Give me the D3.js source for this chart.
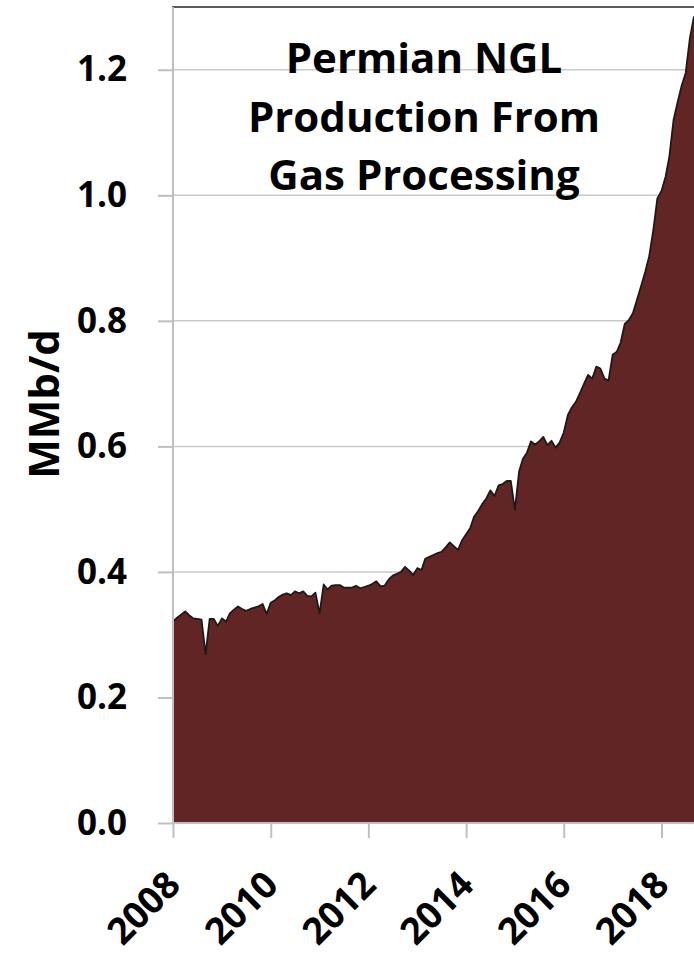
<!DOCTYPE html>
<html>
<head>
<meta charset="utf-8">
<script src="https://cdn.jsdelivr.net/npm/d3@7"></script>
<style>
  body { margin: 0; background: #fff; }
  text { font-family: "Open Sans", Lato, sans-serif; font-weight: bold; fill: #000; }
</style>
</head>
<body>
<div id="chart"></div>
<script>
var width = 694,
    height = 959;

// monthly Permian NGL production, MMb/d, Jan 2008 onwards
var startYear = 2008;
var values = [
  0.321, 0.327, 0.332, 0.337, 0.331, 0.326, 0.325, 0.324, 0.269, 0.325, 0.325, 0.314, // 2008
  0.326, 0.321, 0.334, 0.340, 0.345, 0.341, 0.338, 0.341, 0.343, 0.345, 0.349, 0.333, // 2009
  0.351, 0.355, 0.360, 0.364, 0.366, 0.363, 0.369, 0.366, 0.369, 0.362, 0.361, 0.367, // 2010
  0.334, 0.380, 0.372, 0.378, 0.379, 0.379, 0.375, 0.375, 0.375, 0.378, 0.374, 0.376, // 2011
  0.378, 0.381, 0.385, 0.377, 0.378, 0.388, 0.394, 0.397, 0.400, 0.408, 0.402, 0.395, // 2012
  0.406, 0.403, 0.421, 0.424, 0.427, 0.430, 0.432, 0.439, 0.447, 0.441, 0.435, 0.450, // 2013
  0.460, 0.470, 0.488, 0.497, 0.508, 0.517, 0.530, 0.521, 0.538, 0.540, 0.545, 0.545, // 2014
  0.499, 0.560, 0.580, 0.590, 0.608, 0.603, 0.608, 0.615, 0.602, 0.609, 0.598, 0.606, // 2015
  0.622, 0.650, 0.662, 0.671, 0.685, 0.700, 0.714, 0.708, 0.727, 0.724, 0.708, 0.705, // 2016
  0.746, 0.751, 0.765, 0.795, 0.801, 0.812, 0.833, 0.855, 0.878, 0.903, 0.945, 0.995, // 2017
  1.007, 1.030, 1.062, 1.120, 1.148, 1.175, 1.195, 1.250, 1.285                        // 2018
];
var yTicks = [0, 0.2, 0.4, 0.6, 0.8, 1.0, 1.2];
var xTickYears = [2008, 2010, 2012, 2014, 2016, 2018];
var titleLines = ["Permian NGL", "Production From", "Gas Processing"];
var yLabel = "MMb/d";

var data = values.map(function(v, i){
  return { date: new Date(startYear, i, 1), value: v };
});

var plotLeft = 173, plotBottom = 823, plotTop = 7;

var x = d3.scaleTime()
  .domain([new Date(2008, 0, 1), new Date(2018, 0, 1)])
  .range([plotLeft, 661.5]);

var y = d3.scaleLinear()
  .domain([0, 1.3])
  .range([plotBottom, plotTop]);

var svg = d3.select("#chart")
  .append("svg")
  .attr("width", width)
  .attr("height", height);

// gridlines
svg.append("g")
  .selectAll("line")
  .data(yTicks.filter(function(d){ return d > 0; }))
  .enter()
  .append("line")
  .attr("x1", plotLeft)
  .attr("x2", width)
  .attr("y1", function(d){ return y(d); })
  .attr("y2", function(d){ return y(d); })
  .attr("stroke", "#c9c9c9")
  .attr("stroke-width", 1.5);

// area
var area = d3.area()
  .x(function(d){ return x(d.date); })
  .y0(y(0))
  .y1(function(d){ return y(d.value); });

var line = d3.line()
  .x(function(d){ return x(d.date); })
  .y(function(d){ return y(d.value); });

svg.append("path")
  .datum(data)
  .attr("d", area)
  .attr("fill", "#622526");

svg.append("path")
  .datum(data)
  .attr("d", line)
  .attr("fill", "none")
  .attr("stroke", "#1c1a17")
  .attr("stroke-width", 1.8)
  .attr("stroke-linejoin", "round");

// top border
svg.append("line")
  .attr("x1", plotLeft - 1).attr("x2", width)
  .attr("y1", plotTop).attr("y2", plotTop)
  .attr("stroke", "#222")
  .attr("stroke-width", 1.5);

// y axis
var yAxis = d3.axisLeft(y)
  .tickValues(yTicks)
  .tickSize(15)
  .tickPadding(31)
  .tickFormat(d3.format(".1f"));

var gy = svg.append("g")
  .attr("transform", "translate(" + plotLeft + ",0)")
  .call(yAxis);
gy.select(".domain").remove();
gy.append("line")
  .attr("x1", 0).attr("x2", 0)
  .attr("y1", plotTop).attr("y2", plotBottom);
gy.selectAll("line")
  .attr("stroke", "#bfbfbf")
  .attr("stroke-width", 2);
gy.selectAll("text")
  .attr("font-size", 35)
  .attr("fill", "#000");

// x axis
var xAxis = d3.axisBottom(x)
  .tickValues(xTickYears.map(function(yr){ return new Date(yr, 0, 1); }))
  .tickSize(15)
  .tickFormat(d3.timeFormat("%Y"));

var gx = svg.append("g")
  .attr("transform", "translate(0," + plotBottom + ")")
  .call(xAxis);
gx.select(".domain")
  .attr("d", "M" + plotLeft + ",0H" + width);
gx.selectAll("path, line")
  .attr("stroke", "#bfbfbf")
  .attr("stroke-width", 2);
gx.selectAll("text")
  .attr("font-size", 37)
  .attr("fill", "#000")
  .attr("text-anchor", "end")
  .attr("dy", 0)
  .attr("y", 0)
  .attr("transform", "translate(9,64) rotate(-45)");

// y label
svg.append("text")
  .attr("transform", "translate(59,404) rotate(-90)")
  .attr("text-anchor", "middle")
  .attr("font-size", 42)
  .text(yLabel);

// title
svg.append("g")
  .selectAll("text")
  .data(titleLines)
  .enter()
  .append("text")
  .attr("x", 424)
  .attr("y", function(d, i){ return 73 + i * 58.5; })
  .attr("text-anchor", "middle")
  .attr("font-size", 42)
  .text(function(d){ return d; });
</script>
</body>
</html>
